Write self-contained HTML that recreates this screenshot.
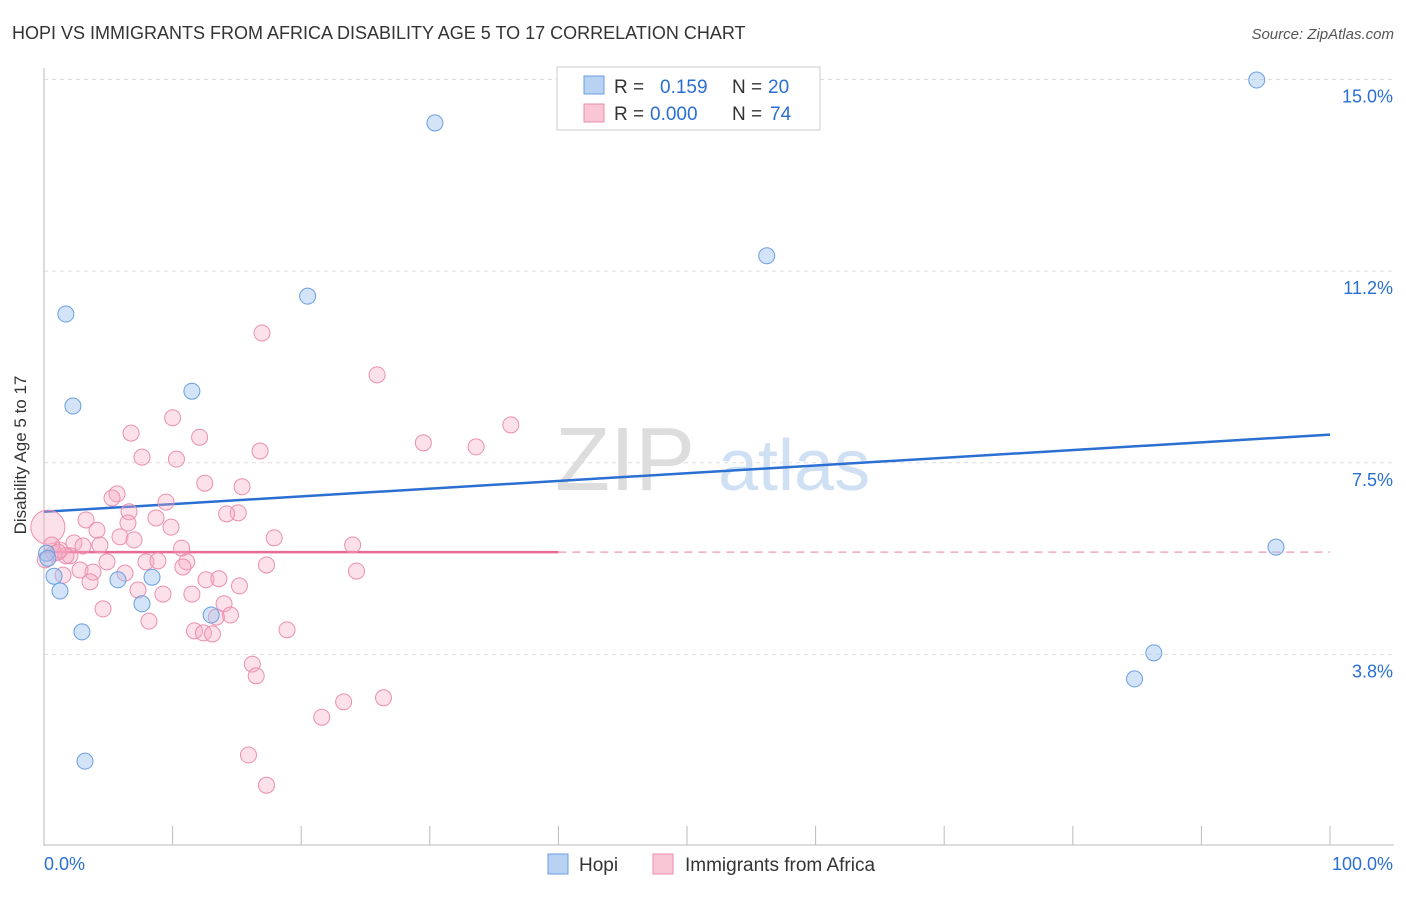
<!DOCTYPE html>
<html><head><meta charset="utf-8"><style>
body{margin:0;background:#fff;font-family:"Liberation Sans",sans-serif}
svg text{font-family:"Liberation Sans",sans-serif}
</style></head><body>
<svg id="chart" width="1406" height="892" xmlns="http://www.w3.org/2000/svg">
<text x="12" y="39" font-size="18" fill="#333">HOPI VS IMMIGRANTS FROM AFRICA DISABILITY AGE 5 TO 17 CORRELATION CHART</text>
<text x="1394" y="39" font-size="15" fill="#555" font-style="italic" text-anchor="end">Source: ZipAtlas.com</text>
<g><text x="555" y="490" font-size="90" fill="#ddd" font-family="Liberation Serif">ZIP</text><text x="718" y="490" font-size="72" fill="#cfe0f4">atlas</text></g>
<g id="grid"></g>
<g id="axes"></g>
<g id="lines"></g>
<g id="pts"></g>
<text x="26" y="455" font-size="17" fill="#333" text-anchor="middle" transform="rotate(-90 26 455)">Disability Age 5 to 17</text>
<g>
<rect x="557" y="67" width="263" height="63" fill="#fff" stroke="#ccc"/>
<rect x="584" y="76" width="20" height="18" fill="#b8d2f3" stroke="#6a9ee0"/>
<text x="614" y="93" font-size="19" fill="#333">R = </text><text x="660" y="93" font-size="19" fill="#2a6fd1">0.159</text>
<text x="732" y="93" font-size="19" fill="#333">N = </text><text x="768" y="93" font-size="19" fill="#2a6fd1">20</text>
<rect x="584" y="104" width="20" height="18" fill="#f9c6d6" stroke="#eb8fae"/>
<text x="614" y="120" font-size="19" fill="#333">R = </text><text x="650" y="120" font-size="19" fill="#2a6fd1">0.000</text>
<text x="732" y="120" font-size="19" fill="#333">N = </text><text x="770" y="120" font-size="19" fill="#2a6fd1">74</text>
</g>
<g>
<rect x="548" y="854" width="20" height="20" fill="#b8d2f3" stroke="#6a9ee0"/>
<text x="579" y="871" font-size="19" fill="#333">Hopi</text>
<rect x="653" y="854" width="20" height="20" fill="#f9c6d6" stroke="#eb8fae"/>
<text x="685" y="871" font-size="19" fill="#333">Immigrants from Africa</text>
</g>
</svg>
<script>
const yTicks=[3.75,7.5,11.25,15];
const yTickLabels=["3.8%","7.5%","11.2%","15.0%"];
const hopiX=[30.4,94.3,56.2,20.5,1.7,11.5,2.25,95.8,0.2,0.78,1.24,5.75,8.4,7.62,2.95,13.0,86.3,84.8,3.19,0.3];
const hopiY=[14.15,14.99,11.55,10.76,10.41,8.90,8.61,5.85,5.73,5.28,4.99,5.21,5.26,4.74,4.19,4.52,3.78,3.27,1.66,5.63];
const afrX=[16.95,25.9,10.0,36.3,6.77,12.1,29.5,33.6,7.62,10.3,16.8,12.5,15.4,5.68,5.29,9.49,6.61,15.1,14.2,8.71,3.27,6.53,9.88,4.12,5.91,7.0,17.9,2.33,3.03,10.7,24.0,1.24,2.02,0.78,4.9,7.93,11.1,8.86,17.3,10.8,2.8,3.81,6.3,24.3,12.6,13.6,1.48,3.58,15.2,7.31,11.5,9.25,14.0,4.59,14.5,8.16,13.4,11.7,12.4,13.1,18.9,16.2,16.5,26.4,23.3,21.6,15.9,17.3,0.3,0.6,1.7,0.1,4.35,1.09];
const afrY=[10.04,9.22,8.38,8.24,8.08,8.0,7.89,7.81,7.61,7.57,7.73,7.10,7.03,6.89,6.81,6.73,6.54,6.52,6.50,6.42,6.38,6.32,6.24,6.18,6.05,5.99,6.03,5.93,5.87,5.83,5.89,5.79,5.68,5.73,5.56,5.56,5.56,5.58,5.50,5.46,5.40,5.36,5.34,5.38,5.21,5.23,5.30,5.17,5.09,5.01,4.93,4.93,4.74,4.64,4.52,4.40,4.48,4.21,4.17,4.15,4.23,3.56,3.33,2.90,2.82,2.52,1.78,1.19,6.24,5.89,5.68,5.60,5.89,5.75];
const hopiTrend=[6.54,8.05];
const afrTrend=[5.75,5.75];
const NS="http://www.w3.org/2000/svg";
const X=v=>44+v*12.86, Y=v=>846-v*51.1;
function mk(t,a,p){const e=document.createElementNS(NS,t);for(const k in a)e.setAttribute(k,a[k]);p.appendChild(e);return e;}
const grid=document.getElementById('grid'),axes=document.getElementById('axes'),lines=document.getElementById('lines'),pts=document.getElementById('pts');
yTicks.forEach((t,i)=>{
 const l=mk('line',{x1:44,x2:1394,y1:Y(t),y2:Y(t),stroke:'#ddd','stroke-dasharray':'4,4'},grid);
 
 
 const tx=mk('text',{x:1393,y:Y(t)+23,'font-size':18,fill:'#2a6fd1','text-anchor':'end'},axes);
 tx.textContent=yTickLabels[i];
 
 
});
mk('line',{x1:44,x2:44,y1:68,y2:846,stroke:'#bbb'},axes);
mk('line',{x1:44,x2:1394,y1:845,y2:845,stroke:'#bbb'},axes);
for(let i=0;i<=10;i++){const t=mk('line',{x1:X(i*10),x2:X(i*10),y1:826,y2:845,stroke:'#bbb'},axes);
 
 }
let a=mk('text',{x:44,y:870,'font-size':18,fill:'#2a6fd1'},axes);a.textContent='0.0%';


a=mk('text',{x:1393,y:870,'font-size':18,fill:'#2a6fd1','text-anchor':'end'},axes);a.textContent='100.0%';


afrX.forEach((x,i)=>{const c=mk('circle',{cx:X(x),cy:Y(afrY[i]),r:i==68?17:8,fill:'rgba(245,170,195,0.35)',stroke:'#eb8fae','stroke-width':1},pts);
 
 });
hopiX.forEach((x,i)=>{const c=mk('circle',{cx:X(x),cy:Y(hopiY[i]),r:8,fill:'rgba(160,195,240,0.45)',stroke:'#6a9ee0','stroke-width':1},pts);
 
 });
let ln=mk('line',{x1:X(0),x2:X(100),y1:Y(hopiTrend[0]),y2:Y(hopiTrend[1]),stroke:'#2a6fd1','stroke-width':2.5},lines);


ln=mk('line',{x1:X(0),x2:X(40),y1:Y(afrTrend[0]),y2:Y(afrTrend[0]+(afrTrend[1]-afrTrend[0])*0.4),stroke:'#e86a95','stroke-width':2.5},lines);


ln=mk('line',{x1:X(40),x2:X(100),y1:Y(afrTrend[0]+(afrTrend[1]-afrTrend[0])*0.4),y2:Y(afrTrend[1]),stroke:'#f0a8c0','stroke-width':1.5,'stroke-dasharray':'8,6'},lines);


</script>
</body></html>
